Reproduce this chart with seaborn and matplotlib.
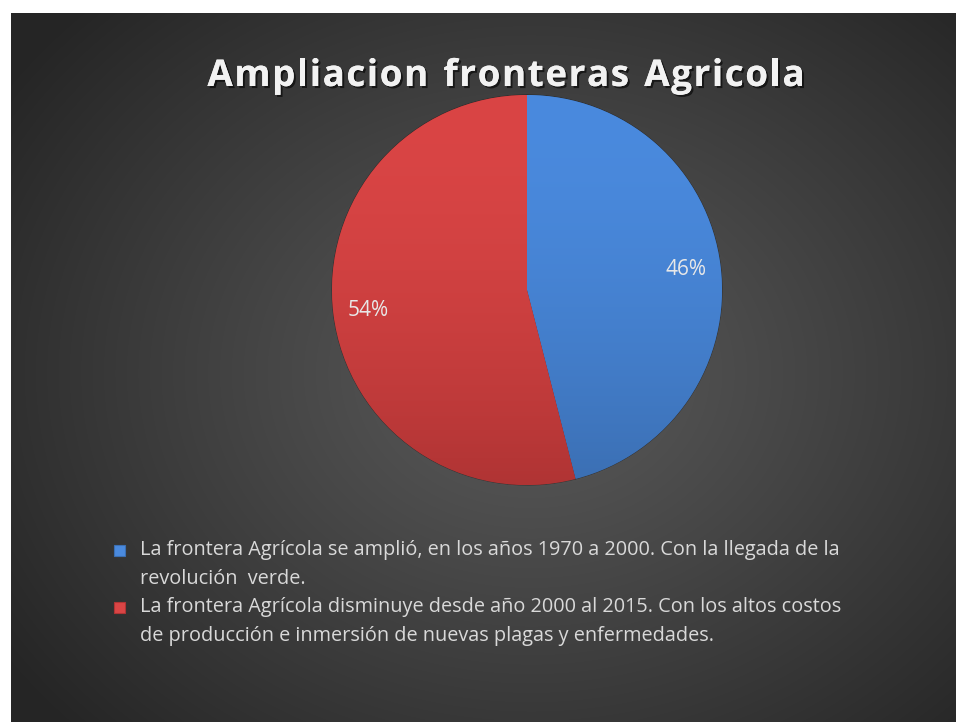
import numpy as np
import matplotlib
matplotlib.use("Agg")
import matplotlib.pyplot as plt
import matplotlib.patheffects as pe
from matplotlib.patches import Rectangle
from matplotlib.colors import to_rgb
import seaborn as sns

sns.set_theme(style="white")
plt.rcParams['font.family'] = ['Open Sans', 'DejaVu Sans']

title = "Ampliacion fronteras Agricola"
categories = [
    "La frontera Agrícola se amplió, en los años 1970 a 2000. Con la llegada de la\nrevolución  verde.",
    "La frontera Agrícola disminuye desde año 2000 al 2015. Con los altos costos\nde producción e inmersión de nuevas plagas y enfermedades.",
]
values = [46, 54]
colors_top = ["#4a8ade", "#da4545"]
colors_bottom = ["#3b6fb3", "#b03434"]

W, H = 956, 722
fig = plt.figure(figsize=(W / 100, H / 100), dpi=100)
fig.patch.set_facecolor("white")

# background with radial gradient
bg = fig.add_axes([11 / W, 0, 1 - 11 / W, 1 - 13 / H])
yy, xx = np.mgrid[0:H - 13, 0:W - 11]
cx, cy = 520, 360
d = np.sqrt(((xx - cx) / 640) ** 2 + ((yy - cy) / 520) ** 2)
d = np.clip(d, 0, 1)
c0, c1 = 0x5a / 255, 0x25 / 255
img = c0 + (c1 - c0) * d ** 1.1
bg.imshow(np.dstack([img, img, img]), aspect="auto", interpolation="bilinear")
bg.set_axis_off()

# pie
pcx, pcy, r = 527, 290, 195
ax = fig.add_axes([(pcx - r) / W, (H - pcy - r) / H, 2 * r / W, 2 * r / H])
wedges, texts, autotexts = ax.pie(
    values, colors=colors_top, startangle=90, counterclock=False,
    autopct=lambda p: f"{p:.0f}%", pctdistance=0.82,
    wedgeprops=dict(edgecolor=(0, 0, 0, 0.35), linewidth=0.8),
    textprops=dict(color="#e8e8e8", fontsize=15),
)
# vertical shading clipped to wedges (darkening mostly toward the bottom)
t = (np.linspace(0, 1, 256) ** 1.8)[:, None]
for w, ct, cb in zip(wedges, colors_top, colors_bottom):
    a, b = np.array(to_rgb(ct)), np.array(to_rgb(cb))
    grad = (a[None, None, :] * (1 - t[..., None]) + b[None, None, :] * t[..., None])
    grad = np.repeat(grad, 2, axis=1)
    im = ax.imshow(grad, extent=[-1, 1, -1, 1], origin="upper", aspect="auto", zorder=1.5)
    im.set_clip_path(w)
for at in autotexts:
    at.set_zorder(5)
ax.set_xlim(-1, 1)
ax.set_ylim(-1, 1)
ax.set_axis_off()

# title with letter spacing
fig.canvas.draw()
renderer = fig.canvas.get_renderer()
tprops = dict(fontsize=26.5, fontweight="bold", color="#f2f2f2", va="center", ha="left",
              path_effects=[pe.withSimplePatchShadow(offset=(1.5, -1.5), shadow_rgbFace="black", alpha=0.6), pe.Normal()])
spacing = 1.6
widths = []
for ch in title:
    tt = fig.text(0, 0, ch if ch != " " else "n", **tprops)
    wpx = tt.get_window_extent(renderer).width
    tt.remove()
    if ch == " ":
        wpx *= 0.5
    widths.append(wpx)
total = sum(widths) + spacing * (len(title) - 1)
x = 506 - total / 2
for ch, wpx in zip(title, widths):
    if ch != " ":
        fig.text(x / W, 1 - 76 / H, ch, **tprops)
    x += wpx + spacing

# legend
line_h = 28.7
y0 = 550
for i, (lab, ct, cb) in enumerate(zip(categories, colors_top, colors_bottom)):
    lines = lab.split("\n")
    ytop = y0 + i * 2 * line_h
    fig.patches.append(Rectangle((114 / W, 1 - (ytop + 6) / H), 11 / W, 11 / H,
                                 transform=fig.transFigure, facecolor=ct,
                                 edgecolor=cb, linewidth=0.8))
    for j, ln in enumerate(lines):
        fig.text(140 / W, 1 - (ytop + j * line_h) / H, ln, ha="left", va="center",
                 fontsize=14.3, color="#d9d9d9")

fig.savefig("out.png", dpi=100, facecolor=fig.get_facecolor())
